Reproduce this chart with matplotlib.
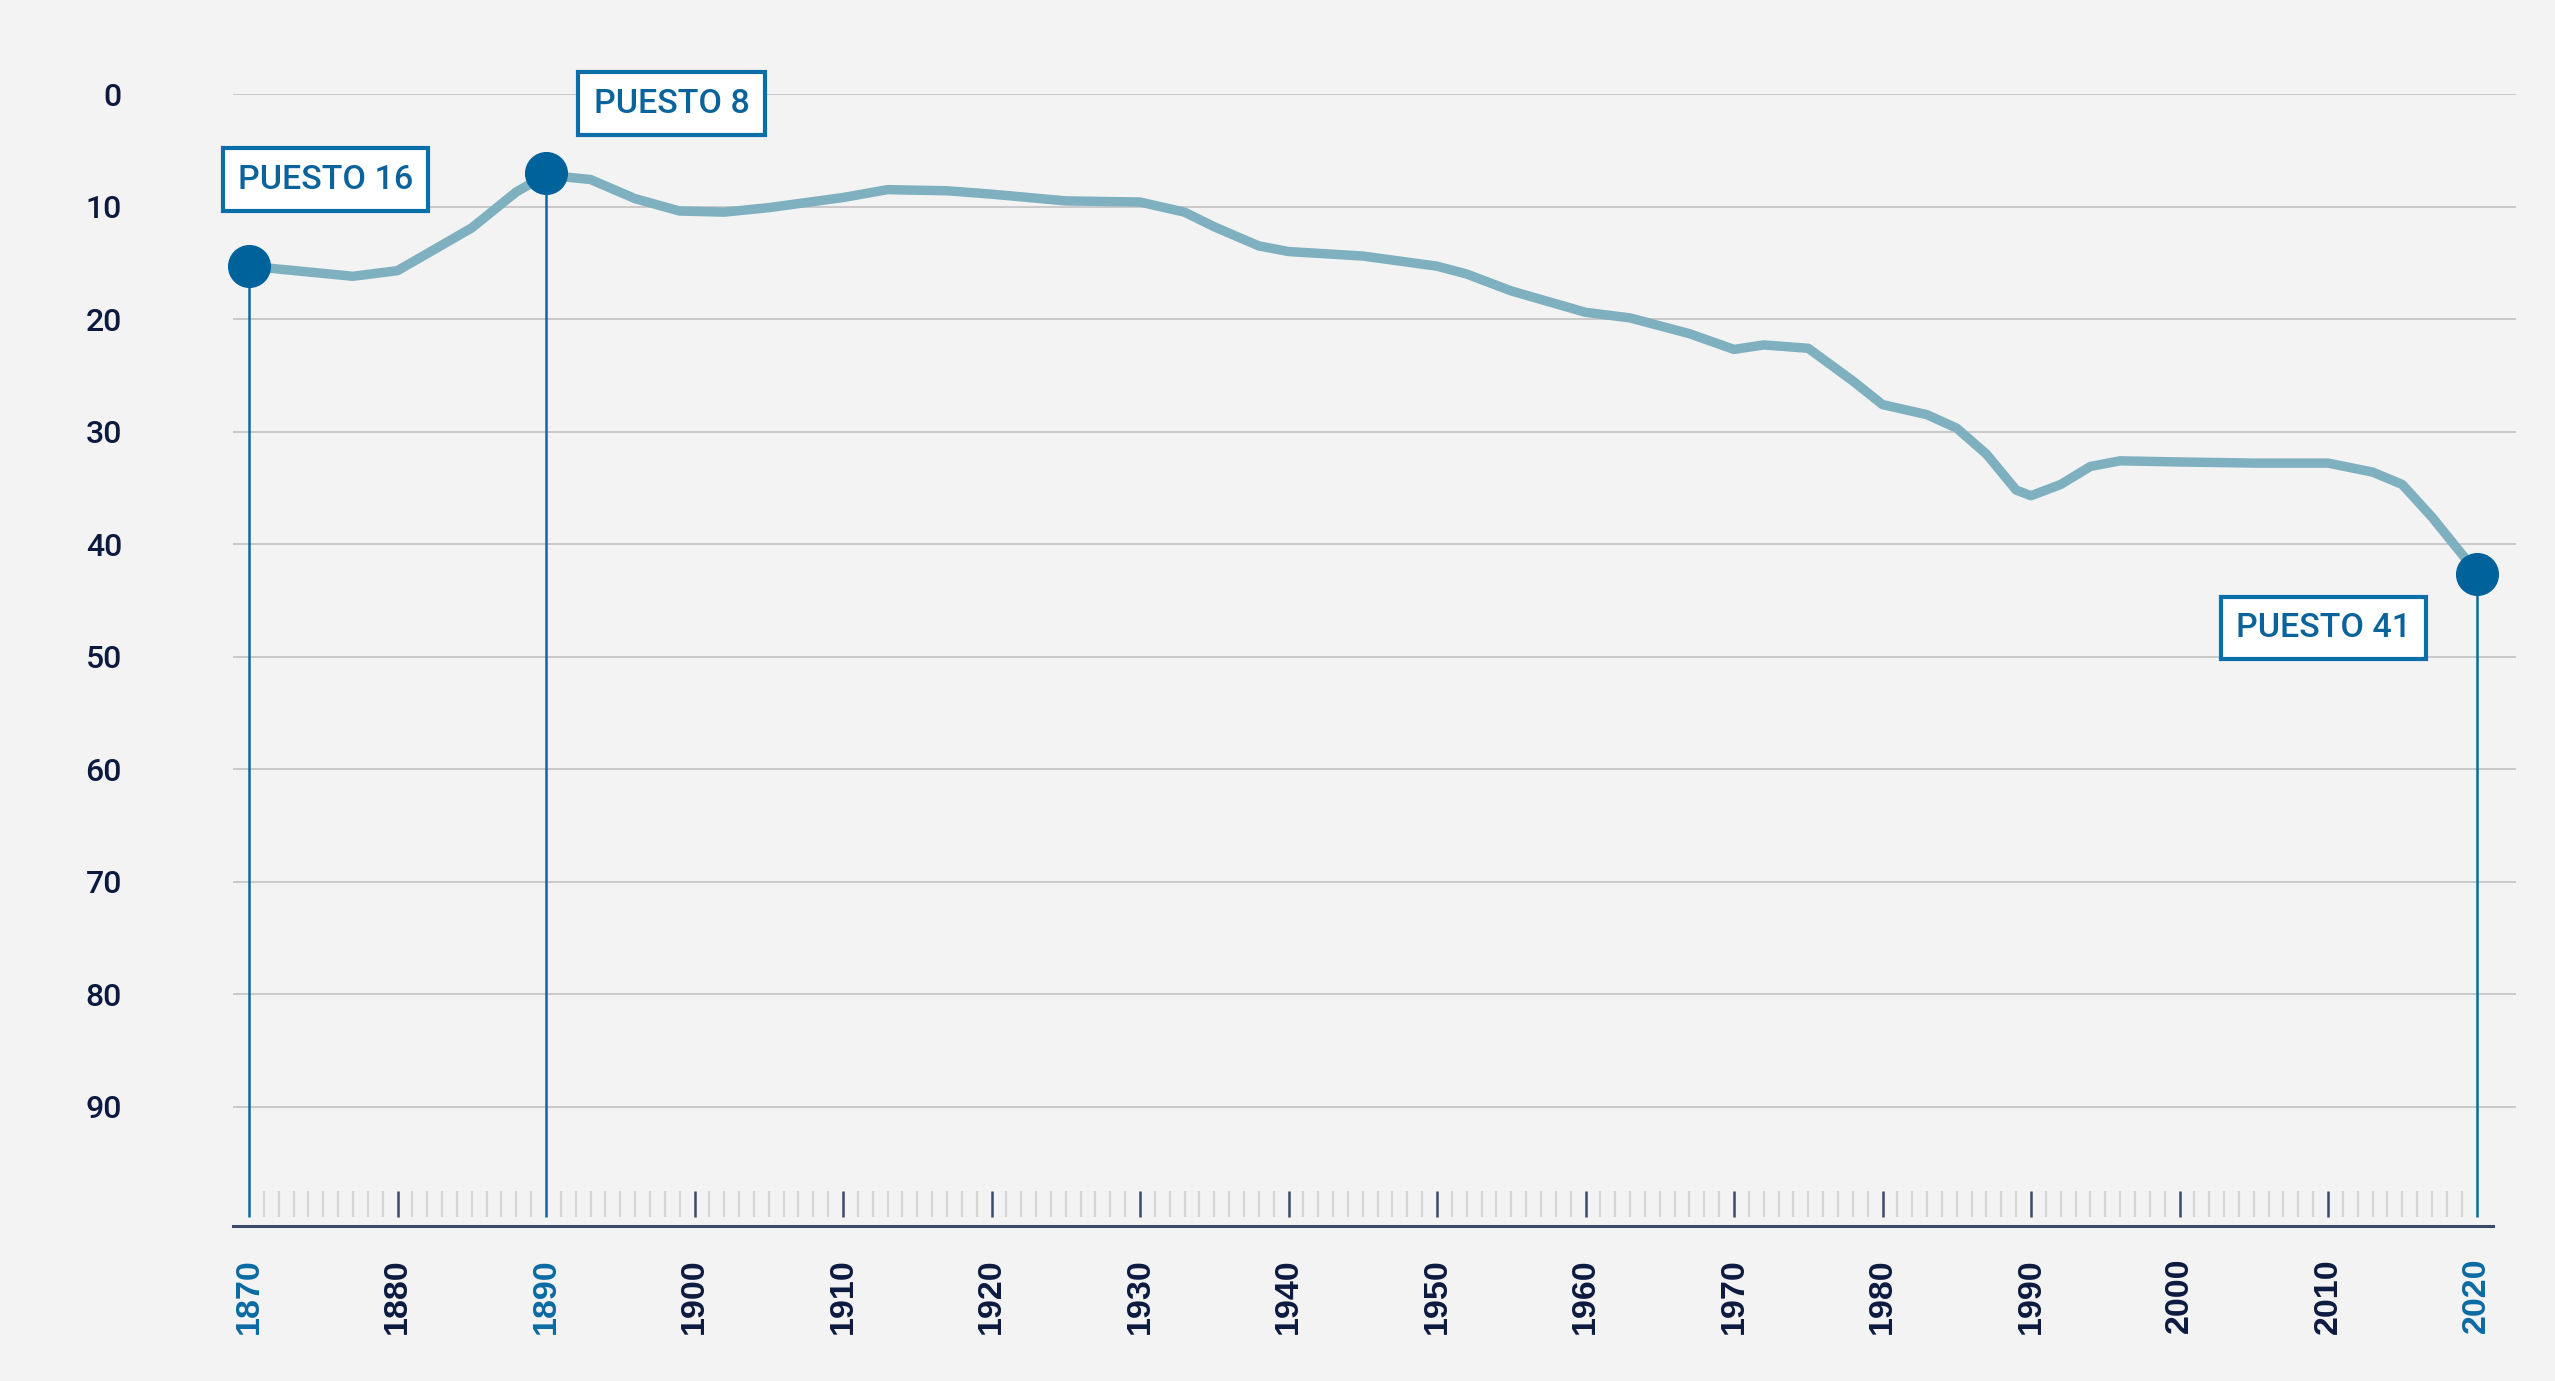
import matplotlib
matplotlib.use("Agg")
import matplotlib.pyplot as plt
import numpy as np

# ---- data ----
years = [1870, 1877, 1880, 1885, 1888, 1890, 1893, 1896, 1899, 1902, 1905, 1910,
         1913, 1917, 1920, 1925, 1930, 1933, 1935, 1938, 1940, 1945, 1950, 1952,
         1955, 1960, 1963, 1967, 1970, 1972, 1975, 1978, 1980, 1983, 1985, 1987,
         1989, 1990, 1992, 1994, 1996, 2000, 2005, 2010, 2013, 2015, 2017, 2020]
rank = [15.3, 16.2, 15.7, 11.9, 8.7, 7.2, 7.6, 9.3, 10.4, 10.5, 10.1, 9.2,
        8.5, 8.6, 8.9, 9.5, 9.6, 10.5, 11.8, 13.5, 14.0, 14.4, 15.3, 16.0,
        17.5, 19.4, 19.9, 21.3, 22.7, 22.3, 22.6, 25.5, 27.6, 28.5, 29.7, 32.0,
        35.2, 35.7, 34.7, 33.1, 32.6, 32.7, 32.8, 32.8, 33.6, 34.7, 37.6, 42.5]

highlight_years = [1870, 1890, 2020]
highlight_rank = [15.3, 7.0, 42.7]
highlight_labels = ["PUESTO 16", "PUESTO 8", "PUESTO 41"]
label_pos = [(1875.15, 7.6), (1898.45, 0.85), (2009.7, 47.45)]

y_ticks = [0, 10, 20, 30, 40, 50, 60, 70, 80, 90]
x_ticks = list(range(1870, 2021, 10))

# ---- style ----
BG = "#f3f3f3"
LINE = "#7eb0bf"
DOT = "#00629b"
BLUE = "#0a6aa3"
NAVY = "#0c1a40"
FONT = "Roboto"

fig = plt.figure(figsize=(25.55, 13.81), dpi=100, facecolor=BG)
W, H = 2555, 1381
ax = fig.add_axes([233 / W, 1 - 1226 / H, (2516 - 233) / W, (1226 - 94) / H])
ax.set_facecolor(BG)

x0 = 1870 - (249 - 233) / 14.85
x1 = 1870 + (2516 - 249) / 14.85
ax.set_xlim(x0, x1)
ax.set_ylim(100.6, 0)

for s in ["top", "right", "left"]:
    ax.spines[s].set_visible(False)
ax.spines["bottom"].set_color("#3b4a6b")
ax.spines["bottom"].set_linewidth(2.2)
ax.spines["bottom"].set_bounds(x0, 2021.1)

# grid
ax.set_yticks(y_ticks)
ax.set_yticklabels([str(v) for v in y_ticks], fontsize=23, color=NAVY,
                   fontfamily=FONT, fontweight="medium")
ax.tick_params(axis="y", length=0, pad=80)
for v in y_ticks:
    ax.axhline(v, color="#c6c6c6", lw=1.3, zorder=1)

# x tick labels
ax.set_xticks(x_ticks)
ax.set_xticklabels([str(v) for v in x_ticks], rotation=90, fontsize=24.5,
                   fontfamily="Liberation Sans", fontweight="bold", va="top")
for lbl, yr in zip(ax.get_xticklabels(), x_ticks):
    lbl.set_color(BLUE if yr in highlight_years else NAVY)
ax.tick_params(axis="x", length=0, pad=23)

# yearly ticks
all_years = np.arange(1870, 2021)
minor = [y for y in all_years if y % 10 != 0]
major = [y for y in all_years if y % 10 == 0 and y not in highlight_years]
ax.vlines(minor, 97.5, 99.8, color="#d6d6d6", lw=1.6, zorder=2)
ax.vlines(major, 97.5, 99.8, color="#3b4a6b", lw=1.8, zorder=2)

# highlight drop lines
ax.vlines(highlight_years, highlight_rank, 99.8, color=BLUE, lw=1.8, zorder=3)

# main line
ax.plot(years, rank, color=LINE, lw=6.8, solid_capstyle="round",
        solid_joinstyle="round", zorder=4)

# highlight dots
ax.plot(highlight_years, highlight_rank, "o", ms=30, color=DOT, mec=DOT, zorder=5,
        clip_on=False)

# labels
for (lx, ly), txt in zip(label_pos, highlight_labels):
    ax.text(lx, ly, txt, ha="center", va="center", fontsize=24.5, color="#0b639c",
            fontfamily=FONT, fontweight="medium", zorder=6, clip_on=False,
            bbox=dict(boxstyle="square,pad=0.45", fc="white", ec="#0a6fa8", lw=3))

fig.savefig("out.png", dpi=100, facecolor=BG)
